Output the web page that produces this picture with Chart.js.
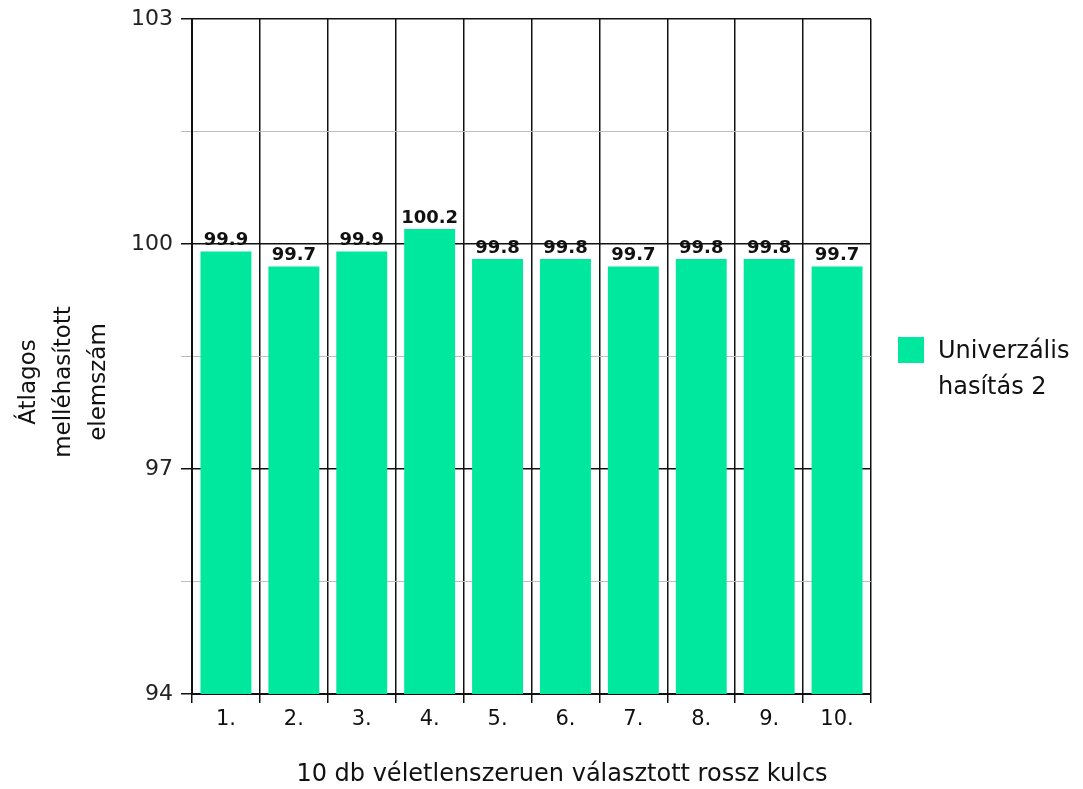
<!DOCTYPE html>
<html>
<head>
<meta charset="utf-8">
<script src="https://cdn.jsdelivr.net/npm/chart.js@4.4.1/dist/chart.umd.min.js"></script>
<style>
  html, body { margin: 0; padding: 0; background: #fff; }
  #wrap { width: 1083px; height: 789px; }
</style>
</head>
<body>
<div id="wrap"><canvas id="chart"></canvas></div>
<script>
const categories = ['1.', '2.', '3.', '4.', '5.', '6.', '7.', '8.', '9.', '10.'];
const values = [99.9, 99.7, 99.9, 100.2, 99.8, 99.8, 99.7, 99.8, 99.8, 99.7];
const seriesName = ['Univerzális', 'hasítás 2'];
const yTitle = ['Átlagos', 'melléhasított', 'elemszám'];
const xTitle = '10 db véletlenszeruen választott rossz kulcs';
const yMin = 94;
const yMax = 103;
const yStep = 1.5;
const yMajor = 3;

const fontFamily = '"DejaVu Sans", "Liberation Sans", sans-serif';
const barColor = '#00E89D';

const isMajor = (v) => Math.abs((v - yMin) % yMajor) < 1e-6;

const valueLabels = {
  id: 'valueLabels',
  afterDatasetsDraw(chart) {
    const { ctx } = chart;
    const meta = chart.getDatasetMeta(0);
    ctx.save();
    ctx.font = 'bold 18px ' + fontFamily;
    ctx.fillStyle = '#111';
    ctx.textAlign = 'center';
    ctx.textBaseline = 'bottom';
    meta.data.forEach((bar, i) => {
      ctx.fillText(String(values[i]), bar.x, bar.y - 2);
    });
    ctx.restore();
  },
};

// legend and axis titles, placed like the original
const extraText = {
  id: 'extraText',
  afterDraw(chart) {
    const { ctx, chartArea } = chart;
    ctx.save();

    const lx = chartArea.right + 27;
    const ly = 337;
    ctx.fillStyle = barColor;
    ctx.fillRect(lx, ly, 26, 26);
    ctx.fillStyle = '#111';
    ctx.font = '24px ' + fontFamily;
    ctx.textAlign = 'left';
    ctx.textBaseline = 'middle';
    seriesName.forEach((line, i) => {
      ctx.fillText(line, lx + 40, ly + 15 + i * 36);
    });

    ctx.font = '24px ' + fontFamily;
    ctx.textAlign = 'center';
    ctx.fillText(xTitle, 562, 775);

    ctx.translate(64, 382);
    ctx.rotate(-Math.PI / 2);
    ctx.font = '23px ' + fontFamily;
    yTitle.forEach((line, i) => {
      ctx.fillText(line, 0, (i - 1) * 35);
    });
    ctx.restore();
  },
};

new Chart(document.getElementById('chart'), {
  type: 'bar',
  data: {
    labels: categories,
    datasets: [{
      label: seriesName.join(' '),
      data: values,
      backgroundColor: barColor,
      barPercentage: 0.75,
      categoryPercentage: 1,
    }],
  },
  options: {
    responsive: true,
    maintainAspectRatio: false,
    animation: false,
    layout: { padding: { top: 19, right: 212, left: 0, bottom: 0 } },
    plugins: {
      legend: { display: false },
      tooltip: { enabled: false },
    },
    scales: {
      x: {
        grid: {
          offset: true,
          color: '#111',
          lineWidth: 1.5,
          tickLength: 9,
        },
        border: { color: '#111', width: 2 },
        ticks: {
          color: '#111',
          font: { family: fontFamily, size: 21 },
          padding: 4,
        },
        afterFit(scale) { scale.height = 95; },
      },
      y: {
        min: yMin,
        max: yMax,
        grid: {
          color: (c) => (isMajor(c.tick.value) ? '#111' : '#bdbdbd'),
          lineWidth: (c) => (isMajor(c.tick.value) ? 1.5 : 1),
          tickLength: 11,
        },
        border: { color: '#111', width: 2 },
        ticks: {
          stepSize: yStep,
          color: '#222',
          font: { family: fontFamily, size: 22 },
          padding: 8,
          callback: (v) => (isMajor(v) ? v : ''),
        },
        afterFit(scale) {
          scale.width = 192;
          scale.paddingTop = 0;
          scale.paddingBottom = 0;
        },
      },
    },
  },
  plugins: [valueLabels, extraText],
});
</script>
</body>
</html>
